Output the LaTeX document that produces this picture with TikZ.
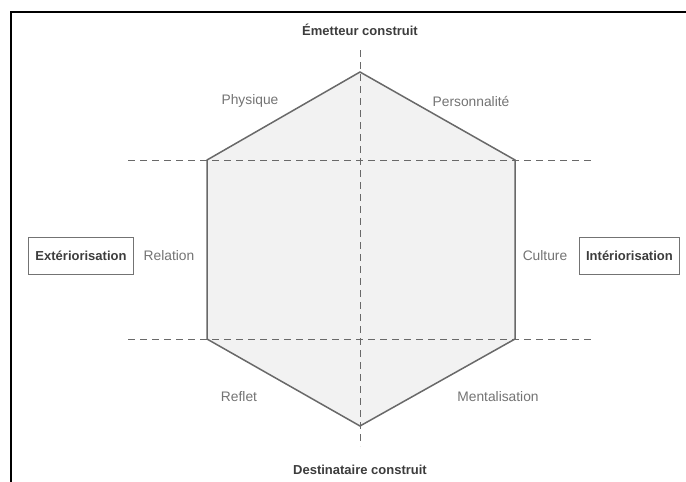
\documentclass[tikz,border=0pt]{standalone}
\usepackage{fontspec}
\setmainfont{Liberation Sans}
\usetikzlibrary{positioning}
\definecolor{hexfill}{RGB}{242,242,242}
\definecolor{hexline}{RGB}{105,105,105}
\definecolor{labelgray}{RGB}{115,115,115}
\definecolor{titlegray}{RGB}{60,60,60}
\tikzset{
    side/.style={text=labelgray,font=\fontsize{13.8}{16}\selectfont},
    axistitle/.style={text=titlegray,font=\fontsize{13}{15}\selectfont\bfseries},
    pole/.style={axistitle,draw=labelgray,line width=0.7pt,inner xsep=7pt,minimum height=37pt},
    guide/.style={draw=hexline,line width=0.7pt,dash pattern=on 7pt off 5pt}
}

\begin{document}
\begin{tikzpicture}[x=1pt,y=-1pt]
\useasboundingbox (0,0) rectangle (686,482);
\draw[line width=2.5pt] (11,482) -- (11,12) -- (686,12);
\foreach \x/\y/\p in {360/72/top, 515/160/ur, 515/339/lr, 360/426/bot, 207/339/ll, 207/160/ul}{
\coordinate (\p) at (\x,\y);
}
\filldraw[fill=hexfill,draw=hexline,line width=1.5pt] (top)--(ur)--(lr)--(bot)--(ll)--(ul)--cycle;
% guide lines
\coordinate (gt) at (360,50);
\coordinate (gb) at (360,446);
\coordinate (gul) at (128,160);
\coordinate (gur) at (592,160);
\coordinate (gll) at (128,339);
\coordinate (glr) at (592,339);
\draw[guide] (gt) -- (gb);
\draw[guide] (gul) -- (gur);
\draw[guide] (gll) -- (glr);
\node[axistitle] (emet) at (360,30) {Émetteur construit};
\node[axistitle] (dest) at (360,470) {Destinataire construit};
\foreach \x/\y/\p/\labeltext in {250/101/phys/Physique, 471/101/pers/Personnalité, 169/256/rel/Relation, 545/256/cult/Culture, 239/397/refl/Reflet, 498/397/ment/Mentalisation}{
\node[side] (\p) at (\x,\y) {\labeltext};
}
\node[pole] (ext) at (81,256) {Extériorisation};
\node[pole,right=8pt of cult] (int) {Intériorisation};
\end{tikzpicture}
\end{document}
